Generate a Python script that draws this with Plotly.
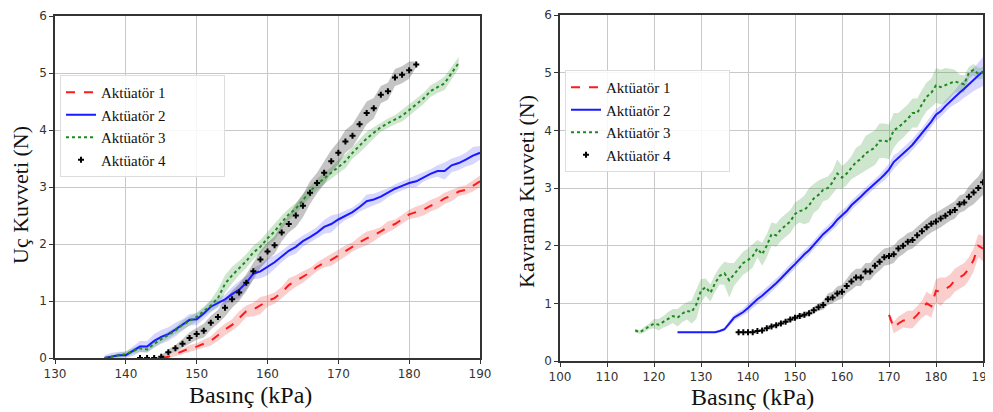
import plotly.graph_objects as go

# ---------------- Left panel: Uç Kuvveti ----------------
L1_start = 145
L1_force = [0, 0.02, 0.07, 0.12, 0.17, 0.2, 0.25, 0.3, 0.4, 0.5,
            0.58, 0.7, 0.82, 0.85, 0.92, 1.0, 1.05, 1.15, 1.28, 1.35,
            1.42, 1.5, 1.6, 1.67, 1.72, 1.8, 1.88, 1.95, 2.03, 2.1,
            2.15, 2.22, 2.3, 2.35, 2.43, 2.52, 2.56, 2.6, 2.67, 2.72,
            2.8, 2.85, 2.92, 2.95, 3.02, 3.1]
L1_spread = [0, 0.02, 0.04, 0.05, 0.06, 0.06, 0.07, 0.08, 0.1, 0.1,
             0.1, 0.12, 0.1, 0.12, 0.15, 0.1, 0.1, 0.1, 0.12, 0.1,
             0.1, 0.08, 0.08, 0.08, 0.1, 0.1, 0.1, 0.08, 0.1, 0.12,
             0.1, 0.08, 0.1, 0.08, 0.08, 0.08, 0.1, 0.1, 0.1, 0.1,
             0.1, 0.1, 0.08, 0.08, 0.1, 0.1]

L2_start = 137
L2_force = [0, 0.03, 0.05, 0.05, 0.12, 0.2, 0.2, 0.3, 0.37, 0.42,
            0.5, 0.58, 0.67, 0.68, 0.78, 0.9, 0.97, 1.03, 1.12, 1.2,
            1.32, 1.48, 1.52, 1.6, 1.68, 1.78, 1.88, 1.95, 2.05, 2.12,
            2.2, 2.3, 2.35, 2.43, 2.5, 2.56, 2.65, 2.75, 2.78, 2.83,
            2.9, 2.97, 3.02, 3.07, 3.1, 3.17, 3.23, 3.28, 3.28, 3.38,
            3.42, 3.48, 3.55, 3.6]
L2_spread = [0.05, 0.06, 0.06, 0.06, 0.08, 0.1, 0.1, 0.12, 0.12, 0.12,
             0.12, 0.1, 0.1, 0.1, 0.1, 0.1, 0.08, 0.08, 0.12, 0.15,
             0.12, 0.1, 0.12, 0.15, 0.12, 0.1, 0.1, 0.12, 0.1, 0.1,
             0.1, 0.12, 0.15, 0.1, 0.08, 0.08, 0.08, 0.12, 0.1, 0.1,
             0.08, 0.08, 0.08, 0.08, 0.1, 0.08, 0.08, 0.1, 0.15, 0.12,
             0.12, 0.12, 0.15, 0.12]

L3_start = 137
L3_force = [0, 0.02, 0.05, 0.07, 0.12, 0.17, 0.15, 0.25, 0.33, 0.4,
            0.48, 0.58, 0.65, 0.72, 0.82, 0.92, 1.05, 1.3, 1.45, 1.58,
            1.7, 1.85, 1.95, 2.1, 2.22, 2.38, 2.52, 2.62, 2.78, 2.92,
            3.05, 3.15, 3.25, 3.36, 3.45, 3.6, 3.72, 3.85, 3.95, 4.05,
            4.12, 4.18, 4.25, 4.35, 4.45, 4.55, 4.68, 4.75, 4.82, 5.0,
            5.18]
L3_spread = [0.03, 0.03, 0.04, 0.05, 0.05, 0.06, 0.06, 0.06, 0.06, 0.06,
             0.06, 0.08, 0.08, 0.08, 0.08, 0.1, 0.15, 0.15, 0.15, 0.12,
             0.12, 0.12, 0.12, 0.12, 0.15, 0.12, 0.1, 0.1, 0.1, 0.1,
             0.1, 0.1, 0.1, 0.12, 0.12, 0.1, 0.12, 0.12, 0.1, 0.08,
             0.08, 0.08, 0.1, 0.1, 0.1, 0.1, 0.1, 0.1, 0.12, 0.12,
             0.1]

L4_start = 142
L4_force = [0, 0, 0, 0.02, 0.1, 0.17, 0.25, 0.35, 0.42, 0.48,
            0.62, 0.72, 0.88, 1.03, 1.15, 1.32, 1.52, 1.73, 1.87, 1.98,
            2.2, 2.35, 2.5, 2.67, 2.9, 3.07, 3.25, 3.45, 3.6, 3.8,
            3.9, 4.1, 4.3, 4.38, 4.62, 4.68, 4.92, 4.97, 5.05, 5.15]
L4_spread = [0, 0, 0, 0.03, 0.05, 0.06, 0.08, 0.1, 0.1, 0.12,
             0.12, 0.12, 0.15, 0.15, 0.15, 0.15, 0.15, 0.15, 0.15, 0.15,
             0.15, 0.15, 0.2, 0.2, 0.2, 0.18, 0.2, 0.2, 0.2, 0.2,
             0.2, 0.2, 0.2, 0.18, 0.15, 0.15, 0.15, 0.15, 0.15, 0.05]

# ---------------- Right panel: Kavrama Kuvveti ----------------
R1_start = 170
R1_force = [0.8, 0.58, 0.65, 0.7, 0.72, 0.72, 0.8, 0.9, 1.0, 0.95,
            1.22, 1.2, 1.25, 1.3, 1.4, 1.45, 1.5, 1.6, 1.75, 2.0, 1.95]
R1_spread = [0.05, 0.1, 0.12, 0.12, 0.15, 0.15, 0.15, 0.15, 0.2, 0.2,
             0.2, 0.25, 0.2, 0.2, 0.2, 0.2, 0.2, 0.2, 0.2, 0.2, 0.22]

R2_start = 125
R2_force = [0.5, 0.5, 0.5, 0.5, 0.5, 0.5, 0.5, 0.5, 0.5, 0.52,
            0.55, 0.65, 0.75, 0.8, 0.85, 0.92, 1.0, 1.07, 1.13, 1.2,
            1.28, 1.35, 1.43, 1.52, 1.6, 1.68, 1.77, 1.85, 1.92, 2.02,
            2.1, 2.2, 2.27, 2.35, 2.45, 2.53, 2.6, 2.7, 2.77, 2.85,
            2.93, 3.0, 3.08, 3.15, 3.23, 3.32, 3.45, 3.52, 3.6, 3.67,
            3.75, 3.85, 3.93, 4.05, 4.15, 4.27, 4.33, 4.42, 4.5, 4.57,
            4.65, 4.72, 4.8, 4.88, 4.95, 5.02]
R2_spread = [0, 0, 0, 0, 0, 0, 0, 0, 0, 0.02,
             0.03, 0.05, 0.05, 0.06, 0.06, 0.08, 0.08, 0.08, 0.08, 0.08,
             0.08, 0.08, 0.08, 0.08, 0.08, 0.08, 0.08, 0.08, 0.08, 0.08,
             0.08, 0.08, 0.08, 0.08, 0.1, 0.08, 0.08, 0.08, 0.08, 0.08,
             0.08, 0.08, 0.08, 0.08, 0.1, 0.1, 0.12, 0.1, 0.1, 0.1,
             0.1, 0.1, 0.1, 0.1, 0.1, 0.1, 0.1, 0.1, 0.1, 0.12,
             0.15, 0.15, 0.18, 0.2, 0.22, 0.25]

R3_start = 116
R3_force = [0.53, 0.5, 0.55, 0.6, 0.65, 0.63, 0.68, 0.73, 0.78, 0.75,
            0.82, 0.87, 0.85, 0.98, 1.22, 1.28, 1.18, 1.35, 1.48, 1.52,
            1.4, 1.5, 1.6, 1.7, 1.75, 1.82, 1.95, 1.85, 2.0, 2.2,
            2.18, 2.28, 2.35, 2.42, 2.55, 2.6, 2.62, 2.7, 2.82, 2.88,
            2.97, 3.0, 3.1, 3.25, 3.18, 3.25, 3.35, 3.45, 3.5, 3.6,
            3.65, 3.7, 3.82, 3.82, 3.8, 4.0, 4.05, 4.12, 4.2, 4.3,
            4.3, 4.45, 4.58, 4.65, 4.78, 4.75, 4.78, 4.82, 4.85, 4.82,
            4.8, 5.0, 5.05, 4.98, 5.0]
R3_spread = [0.03, 0.03, 0.05, 0.05, 0.08, 0.1, 0.1, 0.12, 0.12, 0.15,
             0.15, 0.15, 0.2, 0.25, 0.2, 0.15, 0.15, 0.15, 0.15, 0.2,
             0.3, 0.2, 0.2, 0.2, 0.2, 0.2, 0.15, 0.2, 0.2, 0.2,
             0.2, 0.2, 0.2, 0.2, 0.2, 0.2, 0.25, 0.3, 0.25, 0.25,
             0.2, 0.2, 0.2, 0.25, 0.2, 0.2, 0.2, 0.25, 0.25, 0.3,
             0.3, 0.3, 0.3, 0.3, 0.3, 0.3, 0.25, 0.25, 0.25, 0.25,
             0.25, 0.25, 0.25, 0.25, 0.3, 0.3, 0.3, 0.25, 0.2, 0.15,
             0.15, 0.1, 0.1, 0.1, 0.1]

R4_start = 138
R4_force = [0.5, 0.5, 0.5, 0.5, 0.52, 0.53, 0.57, 0.6, 0.62, 0.65,
            0.68, 0.72, 0.75, 0.78, 0.8, 0.83, 0.88, 0.93, 0.97, 1.07,
            1.1, 1.17, 1.2, 1.3, 1.38, 1.45, 1.45, 1.55, 1.55, 1.65,
            1.72, 1.8, 1.82, 1.85, 1.95, 2.0, 2.07, 2.1, 2.18, 2.25,
            2.32, 2.38, 2.42, 2.47, 2.52, 2.58, 2.62, 2.72, 2.75, 2.85,
            2.92, 3.0, 3.1]
R4_spread = [0, 0, 0, 0, 0.01, 0.02, 0.02, 0.03, 0.03, 0.03,
             0.03, 0.04, 0.04, 0.05, 0.05, 0.05, 0.06, 0.06, 0.08, 0.1,
             0.1, 0.12, 0.12, 0.12, 0.15, 0.15, 0.15, 0.15, 0.15, 0.15,
             0.15, 0.15, 0.15, 0.15, 0.15, 0.15, 0.15, 0.15, 0.15, 0.15,
             0.15, 0.15, 0.15, 0.15, 0.15, 0.15, 0.15, 0.15, 0.15, 0.18,
             0.2, 0.2, 0.22]

names = ["Aktüatör 1", "Aktüatör 2", "Aktüatör 3", "Aktüatör 4"]
line_colors = ["#ff1a1a", "#1a1aff", "#1e8a1e", "#000000"]
band_colors = ["rgba(240,60,60,0.25)", "rgba(70,70,255,0.22)",
               "rgba(60,150,60,0.25)", "rgba(60,60,60,0.3)"]

left = [(L1_start, L1_force, L1_spread), (L2_start, L2_force, L2_spread),
        (L3_start, L3_force, L3_spread), (L4_start, L4_force, L4_spread)]
right = [(R1_start, R1_force, R1_spread), (R2_start, R2_force, R2_spread),
         (R3_start, R3_force, R3_spread), (R4_start, R4_force, R4_spread)]

fig = go.Figure()
PAD = "\u00a0" * 14  # legend box has extra room to the right of the labels


def add_panel(series, xa, ya, legend_id):
    for i, (s, f, sp) in enumerate(series):
        xs = list(range(s, s + len(f)))
        up = [a + b for a, b in zip(f, sp)]
        lo = [max(a - b, 0) for a, b in zip(f, sp)]
        fig.add_trace(go.Scatter(x=xs + xs[::-1], y=up + lo[::-1], fill="toself",
                                 fillcolor=band_colors[i], line=dict(width=0),
                                 mode="lines", showlegend=False, hoverinfo="skip",
                                 xaxis=xa, yaxis=ya))
    for i, (s, f, sp) in enumerate(series):
        xs = list(range(s, s + len(f)))
        if i == 3:
            fig.add_trace(go.Scatter(x=xs, y=f, mode="markers", name=names[i] + PAD,
                                     marker=dict(symbol="cross", size=5, color="black"),
                                     xaxis=xa, yaxis=ya, legend=legend_id))
        else:
            dash = ["dash", "solid", "dot"][i]
            fig.add_trace(go.Scatter(x=xs, y=f, mode="lines", name=names[i] + PAD,
                                     line=dict(color=line_colors[i], width=2, dash=dash),
                                     xaxis=xa, yaxis=ya, legend=legend_id))


add_panel(left, "x", "y", "legend")
add_panel(right, "x2", "y2", "legend2")

# page body has an 8px margin: work in screenshot pixels, convert to figure fractions
OFF = 8
W, H = 993 - OFF, 412 - OFF


def fx(px):
    return (px - OFF) / W


def fy(py):
    return 1 - (py - OFF) / H


axis_common = dict(showgrid=True, gridcolor="#c8c8c8", gridwidth=1,
                   showline=True, linecolor="#333333", linewidth=1.5, mirror=True,
                   ticks="outside", ticklen=4, tickcolor="#333333",
                   tickfont=dict(family="DejaVu Sans", size=12, color="#333333"),
                   zeroline=False, automargin=False, ticklabeloverflow="allow")

legend_common = dict(font=dict(family="Liberation Serif", size=15, color="#111111"),
                     bgcolor="rgba(255,255,255,0.85)", bordercolor="#dddddd",
                     borderwidth=1, xanchor="left", yanchor="top",
                     tracegroupgap=0, itemwidth=30)

fig.update_layout(
    template="none",
    width=W, height=H,
    margin=dict(l=0, r=0, t=0, b=0, autoexpand=False),
    paper_bgcolor="white", plot_bgcolor="white",
    xaxis=dict(domain=[fx(55), fx(480)], range=[130, 190], dtick=10,
               anchor="y", **axis_common),
    yaxis=dict(domain=[fy(358), fy(16)], range=[0, 6], dtick=1,
               anchor="x", **axis_common),
    xaxis2=dict(domain=[fx(560), fx(983)], range=[100, 190], dtick=10,
                anchor="y2", **axis_common),
    yaxis2=dict(domain=[fy(361), fy(15)], range=[0, 6], dtick=1,
                anchor="x2", **axis_common),
    legend=dict(x=fx(60), y=fy(75), **legend_common),
    legend2=dict(x=fx(565), y=fy(70), **legend_common),
    annotations=[
        dict(text="Uç Kuvveti (N)", x=fx(20), y=fy(195), xref="paper", yref="paper",
             xanchor="center", yanchor="middle", textangle=-90, showarrow=False,
             font=dict(family="Liberation Serif", size=22, color="#111111")),
        dict(text="Basınç (kPa)", x=fx(250), y=fy(395), xref="paper", yref="paper",
             xanchor="center", yanchor="middle", showarrow=False,
             font=dict(family="Liberation Serif", size=24, color="#111111")),
        dict(text="Kavrama Kuvveti (N)", x=fx(527), y=fy(192), xref="paper", yref="paper",
             xanchor="center", yanchor="middle", textangle=-90, showarrow=False,
             font=dict(family="Liberation Serif", size=22, color="#111111")),
        dict(text="Basınç (kPa)", x=fx(752), y=fy(397), xref="paper", yref="paper",
             xanchor="center", yanchor="middle", showarrow=False,
             font=dict(family="Liberation Serif", size=24, color="#111111")),
    ],
)

fig.write_html("out.html")
